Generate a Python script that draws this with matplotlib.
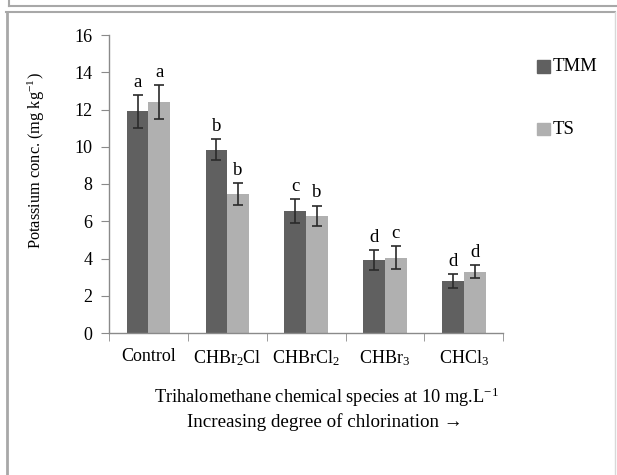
import matplotlib
matplotlib.use("Agg")
import matplotlib.pyplot as plt
from matplotlib.lines import Line2D
import numpy as np

plt.rcParams["font.family"] = ["Liberation Serif", "DejaVu Serif"]
plt.rcParams["mathtext.fontset"] = "custom"
plt.rcParams["mathtext.rm"] = "Liberation Serif"
plt.rcParams["mathtext.it"] = "Liberation Serif:italic"
plt.rcParams["mathtext.default"] = "rm"

# Data
categories = ["Control", r"CHBr$_2$Cl", r"CHBrCl$_2$", r"CHBr$_3$", r"CHCl$_3$"]
tmm = [11.9, 9.85, 6.55, 3.9, 2.8]
tmm_err = [0.87, 0.54, 0.62, 0.54, 0.36]
tmm_letters = ["a", "b", "c", "d", "d"]
ts = [12.4, 7.45, 6.3, 4.05, 3.3]
ts_err = [0.9, 0.58, 0.54, 0.63, 0.33]
ts_letters = ["a", "b", "b", "c", "d"]
yticks = [0, 2, 4, 6, 8, 10, 12, 14, 16]

W, H = 617, 475
FS = 13
fig = plt.figure(figsize=(W / 100, H / 100), dpi=100)
fig.patch.set_facecolor("white")


def fx(px):
    return px / W


def fy(py):
    return 1 - py / H


# page frames around the figure
frame_c = "#a8a8a8"
fig.add_artist(Line2D([fx(9), fx(617)], [fy(6), fy(6)], color=frame_c, lw=1.5))
fig.add_artist(Line2D([fx(9), fx(9)], [fy(0), fy(6)], color=frame_c, lw=1.5))
fig.add_artist(Line2D([fx(6), fx(615)], [fy(12), fy(12)], color=frame_c, lw=1.5))
fig.add_artist(Line2D([fx(6.5), fx(6.5)], [fy(12), fy(475)], color=frame_c, lw=2))
fig.add_artist(Line2D([fx(614.5), fx(614.5)], [fy(12), fy(475)], color="#d8d8d8", lw=1))

ax = fig.add_axes([fx(109), fy(333), (503.3 - 109) / W, (333 - 35) / H])

x = np.arange(len(categories))
bw = 0.276
c_tmm = "#606060"
c_ts = "#b0b0b0"
ecol = "#2a2a2a"
cap = 3.6

ax.bar(x - bw / 2, tmm, bw, color=c_tmm, label="TMM", zorder=2)
ax.bar(x + bw / 2, ts, bw, color=c_ts, label="TS", zorder=2)
ax.errorbar(x - bw / 2, tmm, yerr=tmm_err, fmt="none", ecolor=ecol,
            elinewidth=1.2, capsize=cap, capthick=1.2, zorder=3)
ax.errorbar(x + bw / 2, ts, yerr=ts_err, fmt="none", ecolor=ecol,
            elinewidth=1.2, capsize=cap, capthick=1.2, zorder=3)

for xi, v, e, lab in zip(x - bw / 2, tmm, tmm_err, tmm_letters):
    ax.annotate(lab, (xi, v + e), xytext=(0, 3), textcoords="offset points",
                ha="center", va="bottom", fontsize=FS + 0.5)
for xi, v, e, lab in zip(x + bw / 2, ts, ts_err, ts_letters):
    ax.annotate(lab, (xi, v + e), xytext=(0, 3), textcoords="offset points",
                ha="center", va="bottom", fontsize=FS + 0.5)

ax.set_xlim(-0.5, len(categories) - 0.5)
ax.set_ylim(0, 16)
ax.set_yticks(yticks)
ax.set_yticklabels([str(t) for t in yticks], fontsize=FS)
ax.set_xticks(x)
ax.set_xticklabels(categories, fontsize=FS)
ax.set_xticks(np.arange(-0.5, len(categories)), minor=True)

axis_c = "#8a8a8a"
for s in ["top", "right"]:
    ax.spines[s].set_visible(False)
for s in ["left", "bottom"]:
    ax.spines[s].set_color(axis_c)
    ax.spines[s].set_linewidth(1.0)
ax.tick_params(axis="y", direction="out", length=6, color=axis_c, pad=6)
ax.tick_params(axis="x", which="major", length=0, pad=11)
ax.tick_params(axis="x", which="minor", direction="out", length=6, color=axis_c)

fig.text(fx(36), fy(161), r"Potassium conc. (mg kg$^{-1}$)", rotation=90,
         ha="center", va="center", fontsize=11.8)
t1 = fig.text(fx(326.5), fy(403), r"Trihalomethane chemical species at 10 mg.L$^{-1}$",
              ha="center", va="baseline", fontsize=FS)
t2 = fig.text(fx(325), fy(427), "Increasing degree of chlorination \u2192",
              ha="center", va="baseline", fontsize=FS)

# legend entries
for (lab, col, yc) in [("TMM", c_tmm, 66.5), ("TS", c_ts, 129)]:
    fig.patches.append(plt.Rectangle((fx(537), fy(yc + 6.3)), 12.5 / W, 12.5 / H,
                                     transform=fig.transFigure, color=col, figure=fig))
    fig.text(fx(553), fy(yc), lab, ha="left", va="center", fontsize=FS + 0.5)

# scale the two x-title lines to their printed widths
fig.canvas.draw()
r = fig.canvas.get_renderer()
for t, target in [(t1, 343), (t2, 274)]:
    w = t.get_window_extent(r).width
    t.set_fontsize(t.get_fontsize() * target / w)

fig.savefig("out.png", dpi=100, facecolor="white")
